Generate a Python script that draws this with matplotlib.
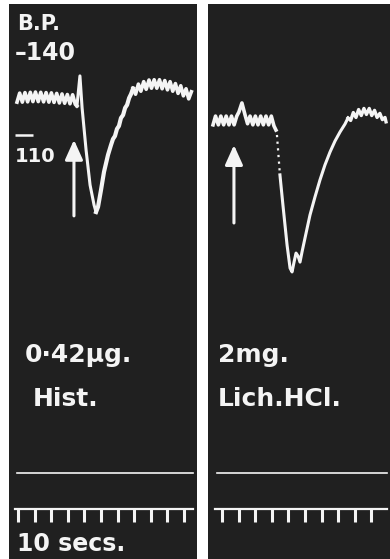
import matplotlib
matplotlib.use("Agg")
import matplotlib.pyplot as plt

# 1. Values: time in s, blood pressure in mm Hg
# left record: histamine
hist_base_t = [-0.6, 1.0, 2.6, 4.2, 5.8, 7.4, 9.0, 10.5, 12.2, 13.7, 15.4, 16.9,
               18.6, 20.1, 21.7, 23.3, 24.9, 26.5, 28.1, 29.7, 31.3, 32.9, 34.5, 35.5]
hist_base_p = [122.0, 125.3, 122.0, 125.5, 122.1, 125.6, 122.2, 125.7, 122.2, 125.6, 122.1, 125.5,
               122.0, 125.4, 121.9, 125.2, 121.7, 125.0, 121.6, 124.8, 121.4, 124.7, 121.2, 120.6]
hist_fall_t = [35.5, 37.3, 38.6, 41.0, 43.4, 45.8, 47.0]
hist_fall_p = [120.6, 131.6, 119.9, 104.5, 91.7, 84.4, 81.8]
hist_rise_t = [47.0, 48.2, 50.0, 51.8, 54.2, 56.0, 57.2, 58.4, 59.6, 60.8, 62.0,
               63.3, 64.5, 65.7, 66.9, 68.1, 69.3]
hist_rise_p = [81.8, 83.7, 89.9, 96.5, 102.7, 106.3, 108.5, 109.6, 112.2, 113.3, 116.2,
               117.3, 119.9, 121.0, 123.5, 125.0, 127.0]
hist_late_t = [69.3, 70.8, 72.5, 74.0, 75.7, 77.2, 78.9, 80.4, 82.0, 83.6, 85.2, 86.8,
               88.4, 90.0, 91.6, 93.2, 94.8, 96.4, 98.0, 99.6, 101.2, 102.8, 104.4]
hist_late_p = [127.0, 124.9, 128.6, 126.0, 129.5, 126.7, 130.1, 127.1, 130.2, 127.1, 130.2, 126.9,
               129.9, 126.5, 129.5, 126.0, 128.8, 125.2, 128.0, 124.3, 126.9, 123.2, 125.8]
hist_arrow = (33.7, 80.4, 108.2)    # time, tail, tip
hist_ticks = [0, 10, 20, 30, 40, 50, 60, 70, 80, 90, 100]

# right record: lichenine HCl
lich_base_t = [-5.4, -3.9, -2.2, -0.7, 1.0, 2.5, 4.2, 5.7, 7.3, 8.9, 10.2, 12.0, 13.9,
               15.4, 16.9, 18.6, 20.1, 21.7, 23.3, 24.9, 26.5, 28.1, 29.7, 31.3, 32.5]
lich_base_p = [113.7, 116.9, 113.7, 116.9, 113.7, 116.9, 113.7, 116.9, 113.7, 116.9, 118.4, 121.7, 117.3,
               114.1, 116.9, 113.7, 116.9, 113.7, 116.9, 113.7, 116.9, 113.7, 116.9, 113.3, 111.8]
lich_gap_t = [33.1, 34.9]
lich_gap_p = [110.0, 95.4]
lich_fall_t = [34.9, 36.7, 39.2, 41.0, 42.2, 43.4, 44.6, 45.8, 47.0, 48.2, 50.0, 53.0,
               56.0, 59.0, 62.0, 65.1, 68.1, 71.1, 74.1, 75.9]
lich_fall_p = [95.4, 84.4, 69.7, 61.3, 59.9, 63.5, 66.8, 65.7, 63.5, 67.2, 72.3, 80.7,
               87.3, 93.5, 99.0, 103.8, 107.8, 111.1, 114.0, 116.2]
lich_late_t = [75.9, 77.5, 79.1, 80.7, 82.3, 83.9, 85.5, 87.0, 88.7, 90.2, 91.9, 93.4,
               95.1, 96.6, 98.2, 98.8]
lich_late_p = [116.2, 115.3, 118.2, 116.4, 119.3, 117.1, 119.7, 117.5, 119.7, 117.1, 119.0, 116.4,
               117.9, 115.6, 116.4, 114.8]
lich_arrow = (7.2, 77.8, 106.3)
lich_ticks = [0, 10, 20, 30, 40, 50, 60, 70, 80, 90]

scale_marks = [140, 110]
dose_labels = [("0\u00b742\u00b5g.", "Hist."), ("2mg.", "Lich.HCl.")]

# 2. Figure: two dark record strips on white
ink = "#f4f4f4"
strip = "#202020"
fig = plt.figure(figsize=(3.9, 5.59), dpi=100, facecolor="white")
ax1 = fig.add_axes([9 / 390, 0, 188 / 390, 555 / 559])
ax2 = fig.add_axes([208 / 390, 0, 182 / 390, 555 / 559])
ax1.set_xlim(-5.42, 107.8)
ax2.set_xlim(-8.43, 101.2)
for ax in (ax1, ax2):
    ax.set_ylim(-45.1, 157.9)
    ax.set_facecolor(strip)
    ax.set_xticks([])
    ax.set_yticks([])
    for s in ax.spines.values():
        s.set_visible(False)

# 3. Pressure traces (pulse teeth)
ax1.plot(hist_base_t, hist_base_p, color=ink, lw=2.6)
ax1.plot(hist_fall_t, hist_fall_p, color=ink, lw=2.2)
ax1.plot(hist_rise_t, hist_rise_p, color=ink, lw=3.0)
ax1.plot(hist_late_t, hist_late_p, color=ink, lw=2.6)

ax2.plot(lich_base_t, lich_base_p, color=ink, lw=2.6)
ax2.plot(lich_gap_t, lich_gap_p, color=ink, lw=1.6, ls=(0, (1, 2)))
ax2.plot(lich_fall_t, lich_fall_p, color=ink, lw=2.2)
ax2.plot(lich_late_t, lich_late_p, color=ink, lw=2.4)

# 4. Injection arrows
for ax, (t, tail, tip) in ((ax1, hist_arrow), (ax2, lich_arrow)):
    ax.annotate("", xy=(t, tip), xytext=(t, tail),
                arrowprops=dict(arrowstyle="-|>,head_length=1.0,head_width=0.45",
                                lw=2.2, color=ink, mutation_scale=12,
                                shrinkA=0, shrinkB=0))

# 5. Pressure calibration
ax1.text(-0.6, 150.6, "B.P.", color=ink, fontsize=15, fontweight="bold",
         ha="left", va="center")
ax1.text(-1.8, scale_marks[0], "\u2013140", color=ink, fontsize=17, fontweight="bold",
         ha="left", va="center")
ax1.hlines(scale_marks[1], -1.8, 9.0, color=ink, lw=1.8)
ax1.text(-1.8, 102.0, "110", color=ink, fontsize=14, fontweight="bold",
         ha="left", va="center")

# 6. Dose labels
for ax, t0, (dose, drug) in ((ax1, 4.2, dose_labels[0]), (ax2, -2.4, dose_labels[1])):
    ax.text(t0, 29.5, dose, color=ink, fontsize=18, fontweight="bold", ha="left", va="center")
    ax.text(t0 + (4.8 if ax is ax1 else 0), 13.4, drug, color=ink, fontsize=18,
            fontweight="bold", ha="left", va="center")

# 7. Signal line and time marker (10 s per tick)
for ax, ticks, x0, x1 in ((ax1, hist_ticks, -1.8, 105.4), (ax2, lich_ticks, -4.2, 99.4)):
    tr = ax.get_xaxis_transform()
    ax.plot([x0 + 1.2, x1], [0.155, 0.155], color=ink, lw=1.2, transform=tr)
    ax.plot([x0, x1], [0.0901, 0.0901], color=ink, lw=1.6, transform=tr)
    ax.vlines(ticks, 0.0667, 0.0901, color=ink, lw=2.2, transform=tr)

ax1.text(-0.6, -39.7, "10 secs.", color=ink, fontsize=17, fontweight="bold",
         ha="left", va="center")

fig.savefig("out.png", dpi=100, facecolor="white")
plt.close(fig)
